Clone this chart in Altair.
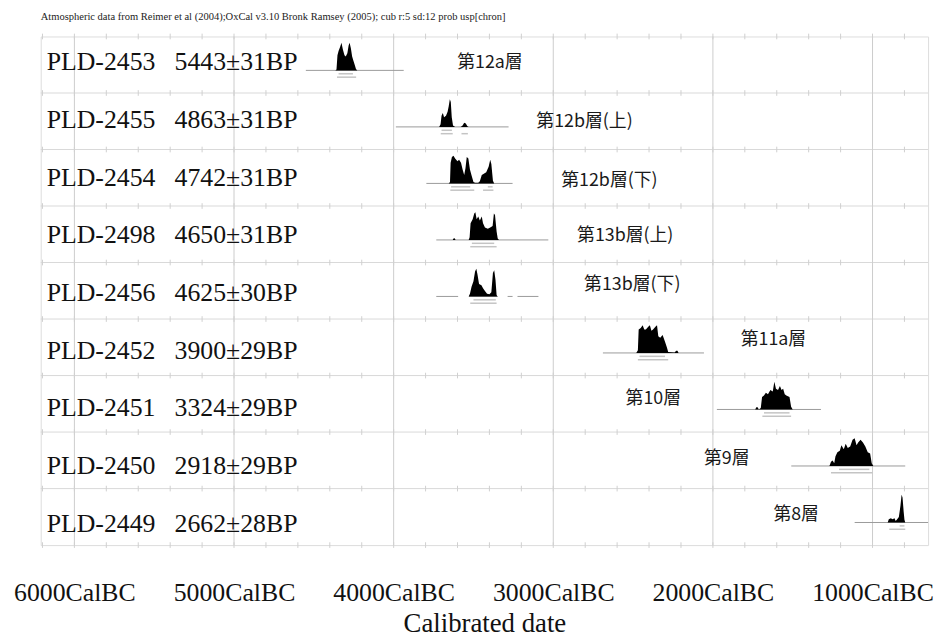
import altair as alt
import pandas as pd

# ---------------- data ----------------
lab_ids = ["PLD-2453", "PLD-2455", "PLD-2454", "PLD-2498", "PLD-2456",
           "PLD-2452", "PLD-2451", "PLD-2450", "PLD-2449"]
bp_ages = ["5443±31BP", "4863±31BP", "4742±31BP", "4650±31BP", "4625±30BP",
           "3900±29BP", "3324±29BP", "2918±29BP", "2662±28BP"]
layer_names = ["第12a層", "第12b層(上)", "第12b層(下)", "第13b層(上)", "第13b層(下)",
               "第11a層", "第10層", "第9層", "第8層"]
layer_year = [3602, 3106, 2950, 2851, 2807, 1826, 2547, 2056, 1621]
layer_dy = [0.47, 0.51, 0.56, 0.54, 0.39, 0.37, 0.42, 0.47, 0.46]

tick_years = [6000, 5000, 4000, 3000, 2000, 1000]
minor_years = [6200, 6000, 5800, 5600, 5400, 5200, 5000, 4800, 4600, 4400, 4200, 4000,
               3800, 3600, 3400, 3200, 3000, 2800, 2600, 2400, 2200, 2000, 1800, 1600,
               1400, 1200, 1000, 800]

# probability distributions (cal BC, relative probability)
d1_year = [4365, 4358, 4352, 4345, 4335, 4327, 4318, 4308, 4300, 4290, 4282, 4276, 4268, 4260, 4252, 4244, 4236, 4228]
d1_dens = [0, 0.03, 0.55, 0.7, 0.85, 1.0, 0.75, 0.55, 0.5, 0.62, 0.9, 1.0, 0.8, 0.5, 0.35, 0.2, 0.05, 0]
d2_year = [3715, 3706, 3700, 3692, 3684, 3672, 3662, 3655, 3648, 3642, 3636, 3628, 3615, 3580, 3568, 3558, 3548, 3538, 3530]
d2_dens = [0, 0.1, 0.4, 0.5, 0.35, 0.4, 0.55, 0.75, 1.0, 0.9, 0.35, 0.05, 0, 0, 0.05, 0.15, 0.12, 0.02, 0]
d3_year = [3655, 3647, 3643, 3635, 3625, 3615, 3600, 3590, 3578, 3568, 3558, 3550, 3542, 3532, 3522, 3510, 3500,
           3490, 3470, 3460, 3448, 3435, 3420, 3405, 3395, 3388, 3378, 3370]
d3_dens = [0, 0.05, 0.75, 0.95, 1.0, 0.9, 0.8, 0.85, 0.75, 0.5, 0.3, 0.55, 0.95, 0.9, 0.5, 0.25, 0.05,
           0.02, 0.02, 0.08, 0.3, 0.35, 0.4, 0.6, 0.85, 0.7, 0.1, 0]
d4_year = [3630, 3625, 3618, 3612, 3530, 3524, 3518, 3505, 3495, 3488, 3480, 3470, 3460, 3448, 3440, 3428,
           3410, 3395, 3380, 3372, 3365, 3355, 3348, 3340]
d4_dens = [0, 0.05, 0.06, 0, 0, 0.1, 0.6, 0.75, 0.95, 1.0, 0.75, 0.85, 0.7, 0.85, 0.6, 0.45,
           0.4, 0.45, 0.5, 0.95, 0.9, 0.3, 0.05, 0]
d5_year = [3530, 3522, 3512, 3500, 3490, 3482, 3475, 3465, 3450, 3440, 3428, 3415, 3400, 3388, 3378, 3370, 3362, 3355, 3350]
d5_dens = [0, 0.1, 0.35, 0.55, 0.9, 1.0, 0.8, 0.45, 0.4, 0.3, 0.2, 0.1, 0.08, 0.15, 0.85, 0.95, 0.6, 0.05, 0]
d6_year = [2480, 2470, 2465, 2452, 2440, 2430, 2420, 2405, 2395, 2385, 2375, 2360, 2350, 2342, 2330, 2315,
           2300, 2288, 2280, 2240, 2230, 2222, 2215]
d6_dens = [0, 0.1, 0.85, 0.9, 1.0, 0.85, 0.85, 0.95, 1.0, 0.8, 0.85, 0.95, 1.0, 0.6, 0.55, 0.65,
           0.4, 0.2, 0.03, 0.02, 0.08, 0.08, 0]
d7_year = [1735, 1728, 1720, 1712, 1700, 1692, 1680, 1668, 1655, 1640, 1625, 1615, 1605, 1592, 1580, 1570,
           1560, 1550, 1540, 1520, 1510, 1500]
d7_dens = [0, 0.08, 0.08, 0, 0.05, 0.45, 0.5, 0.6, 0.55, 0.7, 0.65, 1.0, 0.75, 0.7, 0.85, 0.7,
           0.75, 0.55, 0.5, 0.45, 0.1, 0]
d8_year = [1270, 1260, 1250, 1240, 1232, 1220, 1205, 1195, 1180, 1168, 1155, 1140, 1125, 1112, 1100, 1090,
           1075, 1060, 1045, 1030, 1015, 1005, 995]
d8_dens = [0, 0.15, 0.2, 0.1, 0.35, 0.5, 0.55, 0.75, 0.6, 0.8, 0.65, 0.7, 0.95, 1.0, 0.75, 0.85,
           0.95, 0.85, 0.7, 0.5, 0.45, 0.1, 0]
d9_year = [905, 898, 885, 875, 862, 855, 848, 835, 825, 818, 812, 805, 800, 795]
d9_dens = [0, 0.12, 0.15, 0.12, 0.15, 0.05, 0.1, 0.2, 0.6, 1.0, 0.9, 0.4, 0.1, 0]

dist_years = [d1_year, d2_year, d3_year, d4_year, d5_year, d6_year, d7_year, d8_year, d9_year]
dist_dens = [d1_dens, d2_dens, d3_dens, d4_dens, d5_dens, d6_dens, d7_dens, d8_dens, d9_dens]

# grey calibration-range baselines (row, start BC, end BC)
base_row = [0, 1, 2, 3, 4, 4, 4, 4, 5, 6, 7, 8]
base_start = [4550, 3986, 3795, 3733, 3733, 3528, 3286, 3224, 2689, 1975, 1509, 1112]
base_end = [3937, 3280, 3255, 3031, 3596, 3348, 3255, 3093, 2056, 1323, 795, 600]

# 1 sigma / 2 sigma ranges (row, level, start, end)
sig_row = [0, 0, 1, 1, 1, 2, 2, 2, 2, 3, 3, 4, 4, 5, 5, 6, 6, 7, 7, 8, 8]
sig_level = [1, 2, 1, 2, 2, 1, 1, 2, 2, 1, 2, 1, 2, 1, 2, 1, 2, 1, 2, 1, 2]
sig_start = [4345, 4355, 3700, 3705, 3575, 3640, 3410, 3645, 3440, 3510, 3520, 3500, 3520,
             2460, 2470, 1680, 1690, 1210, 1260, 830, 895]
sig_end = [4255, 4235, 3635, 3630, 3535, 3520, 3380, 3495, 3375, 3370, 3355, 3360, 3355,
           2300, 2280, 1520, 1510, 1020, 1000, 800, 795]

title_text = ("Atmospheric data from Reimer et al (2004);OxCal v3.10 Bronk Ramsey (2005); "
              "cub r:5 sd:12 prob usp[chron]")

# ---------------- tables ----------------
dist_df = pd.DataFrame([
    {"row": i, "year": y, "dens": d}
    for i in range(len(dist_years))
    for y, d in zip(dist_years[i], dist_dens[i])
])
label_df = pd.DataFrame({"row": list(range(len(lab_ids))), "lab": lab_ids, "bp": bp_ages})
layer_df = pd.DataFrame({"row": list(range(len(layer_names))), "name": layer_names,
                         "year": layer_year, "dy": layer_dy})
base_df = pd.DataFrame({"row": base_row, "start": base_start, "end": base_end})
sig_df = pd.DataFrame({"row": sig_row, "level": sig_level, "start": sig_start, "end": sig_end})
grid_df = pd.DataFrame({"year": tick_years})
sep_df = pd.DataFrame({"sep": list(range(1, len(lab_ids)))})
minor_df = pd.DataFrame([{"year": y, "sep": s} for s in range(len(lab_ids) + 1) for y in minor_years])

BASE = 0.6   # baseline position within a row
PEAK = 0.49  # height of the highest probability bar (in rows)

SERIF = "Liberation Serif"
xs = alt.Scale(domain=[652, 6211], reverse=True, nice=False, zero=False)
ys = alt.Scale(domain=[0, 9], reverse=True, nice=False, zero=False)
xaxis = alt.Axis(
    values=tick_years, labelExpr="datum.value + 'CalBC'", grid=False, ticks=False,
    tickSize=0, domain=False, labelFont=SERIF, labelFontSize=26, labelColor="#111111",
    labelBaseline="alphabetic", labelPadding=56, labelFlush=False, labelOverlap=False,
    title="Calibrated date", titleFont=SERIF, titleFontSize=27, titleFontWeight="normal",
    titleColor="#111111", titleBaseline="alphabetic", titleY=87)


def X(field):
    return alt.X(field, scale=xs, axis=xaxis)


def Y(field):
    return alt.Y(field, scale=ys, axis=None)


grid = alt.Chart(grid_df).mark_rule(color="#cccccc", strokeWidth=1).encode(x=X("year:Q"))

seps = alt.Chart(sep_df).mark_rule(color="#d9d9d9", strokeWidth=1).encode(y=Y("sep:Q"))

minor = alt.Chart(minor_df).transform_calculate(
    a="datum.sep - 0.05", b="datum.sep + 0.05"
).mark_rule(color="#cfcfcf", strokeWidth=1).encode(x=X("year:Q"), y=Y("a:Q"), y2="b:Q")

bases = alt.Chart(base_df).transform_calculate(
    yb=f"datum.row + {BASE}"
).mark_rule(color="#9a9a9a", strokeWidth=1, clip=True).encode(
    x=X("start:Q"), x2="end:Q", y=Y("yb:Q"))

sigs = alt.Chart(sig_df).transform_calculate(
    yb=f"datum.row + {BASE} + datum.level * 0.06"
).mark_rule(color="#c4c4c4", strokeWidth=1.5).encode(
    x=X("start:Q"), x2="end:Q", y=Y("yb:Q"))

dists = alt.Chart(dist_df).transform_calculate(
    top=f"datum.row + {BASE} - datum.dens * {PEAK}",
    bot=f"datum.row + {BASE}",
).mark_area(color="#000000", interpolate="linear").encode(
    x=X("year:Q"), y=Y("top:Q"), y2="bot:Q", detail="row:N")

ylab = alt.Chart(label_df).transform_calculate(yl="datum.row * 1.02 + 0.46")
labs = ylab.mark_text(font=SERIF, fontSize=26, align="left", baseline="middle", color="#111111").encode(
    x=alt.value(6), y=Y("yl:Q"), text="lab:N")
bps = ylab.mark_text(font=SERIF, fontSize=26, align="left", baseline="middle", color="#111111").encode(
    x=alt.value(135), y=Y("yl:Q"), text="bp:N")

jp = alt.Chart(layer_df).transform_calculate(yl="datum.row + datum.dy").mark_text(
    font="Noto Sans CJK JP", fontSize=18, align="left", baseline="middle", color="#1a1a1a"
).encode(x=X("year:Q"), y=Y("yl:Q"), text="name:N")

chart = alt.layer(grid, seps, minor, bases, sigs, dists, labs, bps, jp).properties(
    width=895, height=513,
    title=alt.TitleParams(title_text, anchor="start", frame="group", font=SERIF, fontSize=10.6,
                          fontWeight="normal", color="#222222", offset=11),
    autosize=alt.AutoSizeParams(type="none"),
    padding={"left": 33, "top": 26, "right": 8, "bottom": 93},
).configure_view(stroke="#bdbdbd", strokeWidth=1).configure(background="white")

chart.save("out.html", embed_options={"renderer": "svg", "actions": False})
